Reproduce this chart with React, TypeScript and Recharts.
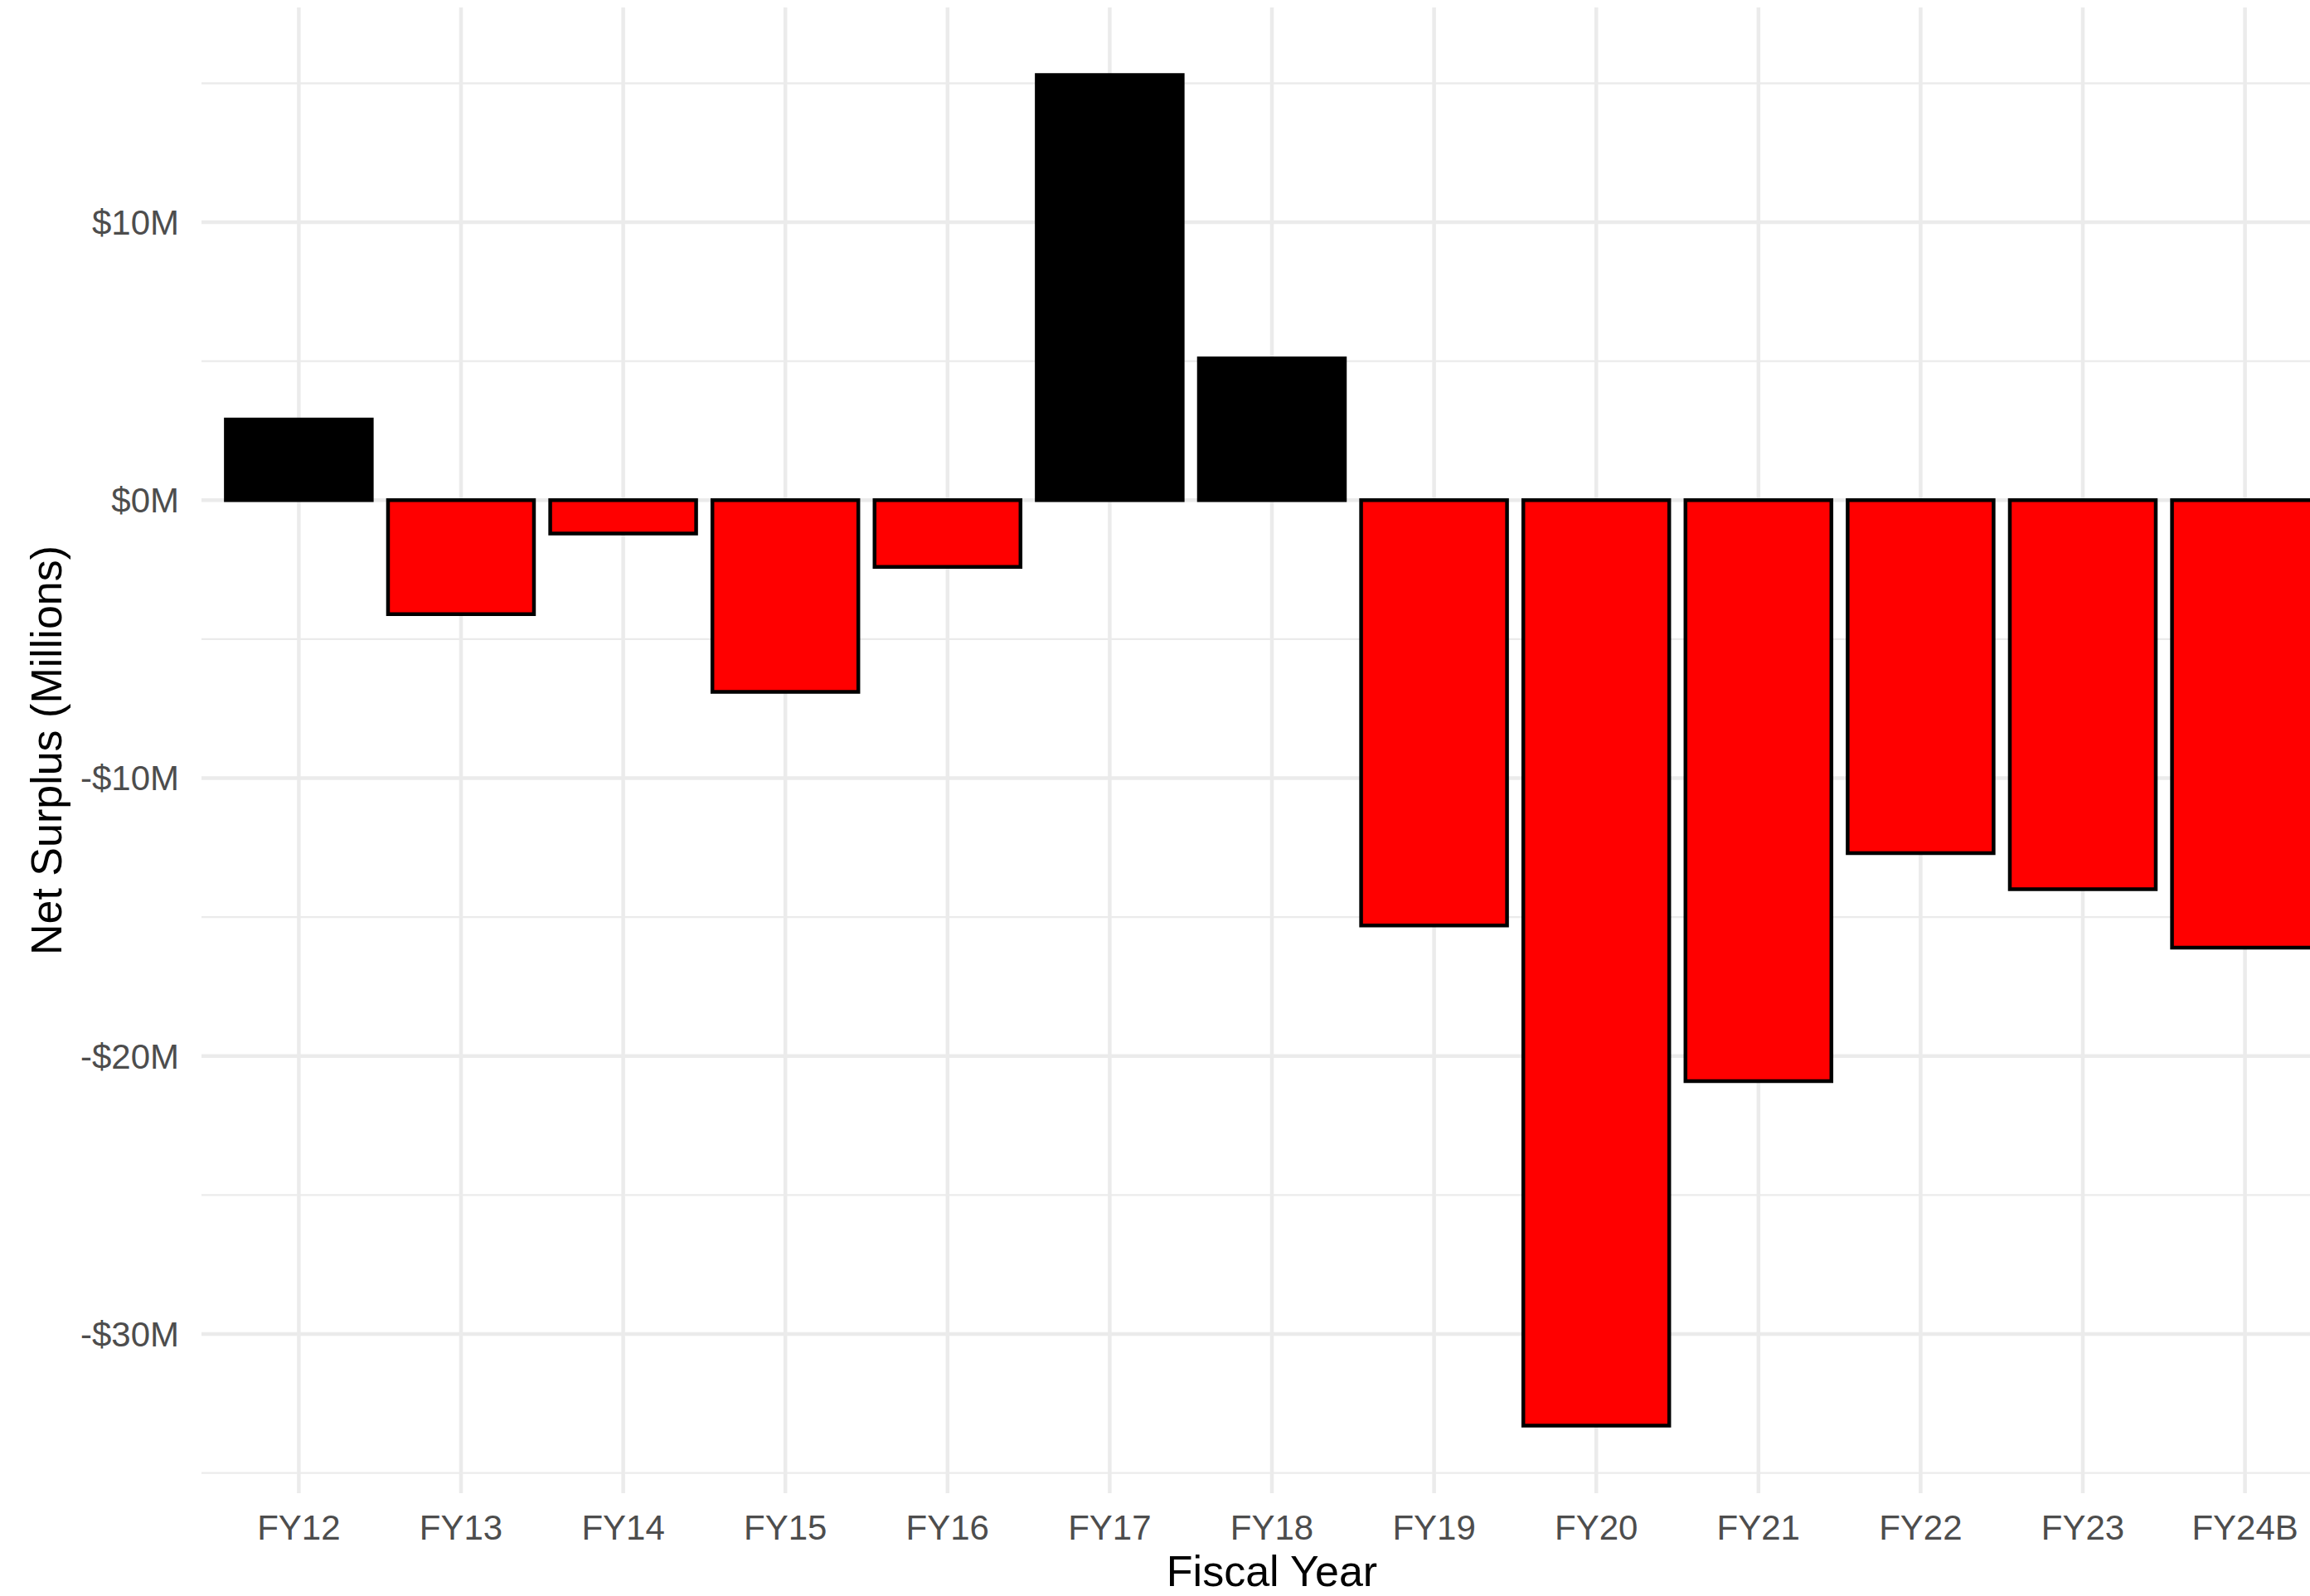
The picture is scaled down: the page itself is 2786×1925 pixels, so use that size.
import { BarChart, Bar, Cell, XAxis, YAxis, CartesianGrid, Label } from 'recharts'

// Fiscal years and net surplus (millions of dollars)
const FISCAL_YEARS = ['FY12', 'FY13', 'FY14', 'FY15', 'FY16', 'FY17', 'FY18', 'FY19', 'FY20', 'FY21', 'FY22', 'FY23', 'FY24B']
const NET_SURPLUS = [2.9, -4.1, -1.2, -6.9, -2.4, 15.3, 5.1, -15.3, -33.3, -20.9, -12.7, -14.0, -16.1]

const MAJOR_TICKS = [-30, -20, -10, 0, 10]
const MINOR_TICKS = [-35, -25, -15, -5, 5, 15]

const FONT = '"Liberation Sans", Arial, Helvetica, sans-serif'

const data = FISCAL_YEARS.map((fy, i) => ({ fy, value: NET_SURPLUS[i] }))

// ggplot-style 5% expansion of the value range
const lo = Math.min(...NET_SURPLUS)
const hi = Math.max(...NET_SURPLUS)
const pad = (hi - lo) * 0.05
const Y_DOMAIN: [number, number] = [lo - pad, hi + pad]

const formatMillions = (v: number) => (v < 0 ? `-$${Math.abs(v)}M` : `$${v}M`)

export default function App() {
    return (
        <div
            style={{
                position: 'absolute',
                left: 0,
                top: 0,
                width: 2786,
                height: 1925,
                overflow: 'hidden',
                background: '#ffffff',
                fontFamily: FONT,
            }}
        >
            <BarChart
                width={2860}
                height={1925}
                data={data}
                margin={{ top: 9, right: 35, bottom: 0, left: 0 }}
                barCategoryGap="5%"
            >
                {/* minor grid */}
                <CartesianGrid
                    vertical={false}
                    horizontalValues={MINOR_TICKS}
                    syncWithTicks
                    stroke="#EBEBEB"
                    strokeWidth={2.3}
                />
                {/* major grid, no border lines at the plot edges */}
                <CartesianGrid syncWithTicks stroke="#EBEBEB" strokeWidth={4.5} />
                <XAxis
                    dataKey="fy"
                    type="category"
                    padding={{ left: 19.6, right: 19.6 }}
                    height={124}
                    axisLine={false}
                    tickLine={false}
                    tickSize={0}
                    tickMargin={26}
                    interval={0}
                    tick={{ fontSize: 42, fill: '#4D4D4D', fontFamily: FONT }}
                >
                    <Label
                        value="Fiscal Year"
                        position="insideBottom"
                        offset={12}
                        style={{ fontSize: 52, fill: '#000000', fontFamily: FONT }}
                    />
                </XAxis>
                <YAxis
                    type="number"
                    domain={Y_DOMAIN}
                    ticks={MAJOR_TICKS}
                    width={243}
                    axisLine={false}
                    tickLine={false}
                    tickSize={0}
                    tickMargin={27}
                    tickFormatter={formatMillions}
                    tick={{ fontSize: 42, fill: '#4D4D4D', fontFamily: FONT }}
                >
                    <Label
                        content={(props: any) => {
                            const vb = props.viewBox || {}
                            const cy = vb.y + vb.height / 2
                            const bx = 74
                            return (
                                <text
                                    x={bx}
                                    y={cy}
                                    transform={`rotate(-90, ${bx}, ${cy})`}
                                    textAnchor="middle"
                                    fontSize={52}
                                    fill="#000000"
                                    fontFamily={FONT}
                                >
                                    Net Surplus (Millions)
                                </text>
                            )
                        }}
                    />
                </YAxis>
                <Bar dataKey="value" stroke="#000000" strokeWidth={4.5} isAnimationActive={false}>
                    {data.map((d, i) => (
                        <Cell key={`bar-${i}`} fill={d.value >= 0 ? '#000000' : '#FF0000'} />
                    ))}
                </Bar>
            </BarChart>
        </div>
    )
}
